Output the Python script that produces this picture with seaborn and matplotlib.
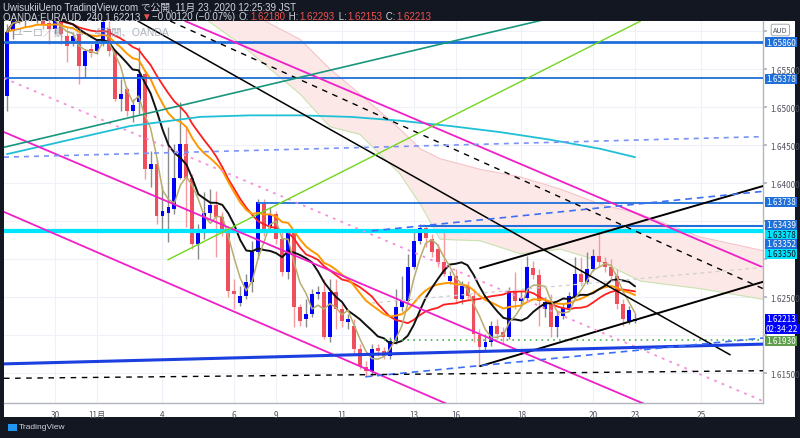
import numpy as np
import pandas as pd
import matplotlib
matplotlib.use("Agg")
import matplotlib.pyplot as plt
import seaborn as sns
from matplotlib.patches import Rectangle

# ===============================
# STYLE
# ===============================
sns.set_theme(style="white")
plt.rcParams["font.family"] = ["Liberation Sans", "Noto Sans CJK JP", "DejaVu Sans"]
NARROW = ["Liberation Sans Narrow", "Noto Sans CJK JP", "DejaVu Sans"]

# ===============================
# DATA  (EURAUD, 4H candles)
# ===============================
opens = [1.6514, 1.6600, 1.6622, 1.6613, 1.6626, 1.6616, 1.6629, 1.6611, 1.6603, 1.6618,
         1.6593, 1.6587, 1.6596, 1.6554, 1.6576, 1.6574, 1.6583, 1.6603, 1.6574, 1.6511,
         1.6524, 1.6495, 1.6507, 1.6543, 1.6418, 1.6425, 1.6357, 1.6361, 1.6366, 1.6407,
         1.6451, 1.6407, 1.6320, 1.6336, 1.6361, 1.6371, 1.6355, 1.6336, 1.6258, 1.6242,
         1.6251, 1.6270, 1.6309, 1.6372, 1.6342, 1.6359, 1.6326, 1.6283, 1.6337, 1.6237,
         1.6221, 1.6228, 1.6254, 1.6257, 1.6197, 1.6257, 1.6234, 1.6217, 1.6212, 1.6182,
         1.6158, 1.6153, 1.6183, 1.6179, 1.6172, 1.6192, 1.6237, 1.6245, 1.6289, 1.6324,
         1.6341, 1.6326, 1.6313, 1.6296, 1.6271, 1.6278, 1.6247, 1.6264, 1.6251, 1.6200,
         1.6184, 1.6191, 1.6212, 1.6204, 1.6197, 1.6258, 1.6245, 1.6249, 1.6288, 1.6279,
         1.6234, 1.6245, 1.6211, 1.6225, 1.6236, 1.6251, 1.6280, 1.6270, 1.6287, 1.6304,
         1.6296, 1.6289, 1.6278, 1.6241, 1.6218, 1.62180]
highs = [1.6609, 1.6632, 1.6636, 1.6636, 1.6636, 1.6632, 1.6636, 1.6626, 1.6626, 1.6626,
         1.6596, 1.6599, 1.6599, 1.6576, 1.6583, 1.6589, 1.6622, 1.6613, 1.6576, 1.6537,
         1.6526, 1.6511, 1.6579, 1.6547, 1.6442, 1.6432, 1.6396, 1.6474, 1.6451, 1.6507,
         1.6475, 1.6412, 1.6346, 1.6388, 1.6392, 1.6389, 1.6362, 1.6342, 1.6274, 1.6264,
         1.6280, 1.6324, 1.6379, 1.6379, 1.6368, 1.6363, 1.6336, 1.6339, 1.6339, 1.6241,
         1.6247, 1.6261, 1.6264, 1.6274, 1.6274, 1.6274, 1.6241, 1.6228, 1.6221, 1.6188,
         1.6166, 1.6188, 1.6188, 1.6184, 1.6197, 1.6261, 1.6278, 1.6307, 1.6336, 1.6346,
         1.6343, 1.6333, 1.6320, 1.6339, 1.6284, 1.6287, 1.6271, 1.6271, 1.6261, 1.6208,
         1.6201, 1.6218, 1.6221, 1.6211, 1.6263, 1.6283, 1.6258, 1.6304, 1.6297, 1.6287,
         1.6250, 1.6254, 1.6232, 1.6241, 1.6257, 1.6303, 1.6303, 1.6309, 1.6313, 1.6336,
         1.6303, 1.6300, 1.6287, 1.6247, 1.6238, 1.62293]
lows = [1.6495, 1.6589, 1.6609, 1.6605, 1.6613, 1.6611, 1.6603, 1.6583, 1.6596, 1.6583,
        1.6559, 1.6580, 1.6530, 1.6539, 1.6566, 1.6570, 1.6580, 1.6567, 1.6508, 1.6495,
        1.6488, 1.6480, 1.6491, 1.6405, 1.6395, 1.6346, 1.6339, 1.6322, 1.6359, 1.6405,
        1.6342, 1.6313, 1.6300, 1.6326, 1.6353, 1.6303, 1.6330, 1.6250, 1.6234, 1.6238,
        1.6247, 1.6257, 1.6300, 1.6330, 1.6337, 1.6320, 1.6278, 1.6274, 1.6211, 1.6212,
        1.6211, 1.6224, 1.6247, 1.6195, 1.6191, 1.6208, 1.6211, 1.6208, 1.6175, 1.6155,
        1.6146, 1.6146, 1.6172, 1.6168, 1.6168, 1.6188, 1.6232, 1.6241, 1.6287, 1.6320,
        1.6316, 1.6303, 1.6289, 1.6278, 1.6267, 1.6243, 1.6241, 1.6247, 1.6191, 1.6159,
        1.6179, 1.6186, 1.6195, 1.6188, 1.6195, 1.6234, 1.6237, 1.6245, 1.6274, 1.6212,
        1.6224, 1.6197, 1.6197, 1.6221, 1.6232, 1.6247, 1.6264, 1.6267, 1.6284, 1.6291,
        1.6283, 1.6274, 1.6234, 1.6212, 1.6214, 1.62153]
closes = [1.6599, 1.6622, 1.6616, 1.6626, 1.6618, 1.6629, 1.6609, 1.6603, 1.6618, 1.6596,
          1.6580, 1.6593, 1.6554, 1.6574, 1.6571, 1.6583, 1.6612, 1.6574, 1.6511, 1.6517,
          1.6495, 1.6503, 1.6543, 1.6418, 1.6425, 1.6357, 1.6363, 1.6368, 1.6407, 1.6451,
          1.6407, 1.6320, 1.6336, 1.6361, 1.6371, 1.6355, 1.6336, 1.6258, 1.6254, 1.6251,
          1.6270, 1.6309, 1.6375, 1.6339, 1.6359, 1.6326, 1.6283, 1.6336, 1.6237, 1.6218,
          1.6228, 1.6254, 1.6257, 1.6197, 1.6257, 1.6234, 1.6218, 1.6221, 1.6182, 1.6159,
          1.6153, 1.6182, 1.6179, 1.6172, 1.6192, 1.6237, 1.6245, 1.6289, 1.6324, 1.6341,
          1.6328, 1.6309, 1.6296, 1.6280, 1.6278, 1.6247, 1.6264, 1.6251, 1.6201, 1.6184,
          1.6191, 1.6212, 1.6201, 1.6197, 1.6258, 1.6245, 1.6249, 1.6289, 1.6279, 1.6245,
          1.6243, 1.6211, 1.6225, 1.6236, 1.6251, 1.6280, 1.6270, 1.6287, 1.6304, 1.6296,
          1.6289, 1.6278, 1.6241, 1.6221, 1.6233, 1.62213]

# long moving average (cyan), read at a few bars
long_ma_bars = [0, 8.9, 20.6, 32.3, 40.6, 49, 57.4, 65.7, 74.1, 82.4, 90.8, 99.2, 105]
long_ma_vals = [1.6438, 1.6454, 1.6475, 1.6487, 1.6489, 1.6489, 1.6487, 1.6482, 1.6475,
                1.6467, 1.6457, 1.6445, 1.6434]

# ichimoku cloud edges
cloud_bars = [28.9, 39.0, 49.0, 54.0, 59.0, 65.7, 69.1, 72.4, 79.1, 85.8, 92.5, 99.2,
              105.9, 115.9, 126.4]
cloud_top = [1.6650, 1.6630, 1.6589, 1.6550, 1.6517, 1.6471, 1.6445, 1.6432, 1.6418,
             1.6408, 1.6392, 1.6372, 1.6359, 1.6329, 1.6311]
cloud_bot = [1.6640, 1.6583, 1.6517, 1.6474, 1.6464, 1.6412, 1.6372, 1.6326, 1.6324,
             1.6307, 1.6313, 1.6297, 1.6271, 1.6261, 1.6247]

# date ticks
tick_bars = [8, 15, 26, 38, 45, 56, 68, 75, 86, 98, 105, 116]
tick_labels = ["30", "11月", "4", "6", "9", "11", "13", "16", "18", "20", "23", "25"]

# price scale ticks (the ones hidden behind price labels are left blank)
price_ticks = [1.615, 1.620, 1.625, 1.630, 1.635, 1.640, 1.645, 1.650, 1.655, 1.660]
price_tick_labels = ["1.61500", "", "1.62500", "", "", "1.64000", "1.64500", "1.65000",
                     "1.65500", ""]

# horizontal drawings
hline_prices = [1.65860, 1.65378, 1.63738, 1.63439, 1.63378, 1.63352, 1.63350, 1.61930]
hline_from = [-0.5, -0.5, 42, 69, -0.5, 69, -0.5, 63]

# sloped drawings: bar0, price0, bar1, price1
seg_bar0 = [21.9, 27.3, 79.1, 79.1, 29.8, -0.5, -0.5, -0.5, 26.9, -0.5, -0.5, -0.5, 59.9, -0.5, 61.0, 61.0]
seg_p0 = [1.6613, 1.6613, 1.6288, 1.6159, 1.6613, 1.6467, 1.6362, 1.6538, 1.6299, 1.6447,
          1.6434, 1.6162, 1.6145, 1.6143, 1.6337, 1.6242]
seg_bar1 = [120.9, 126.4, 126.4, 126.4, 126.4, 126.4, 126.4, 126.4, 105.9, 126.4, 126.4,
            126.4, 126.4, 126.4, 126.4, 126.4]
seg_p1 = [1.6174, 1.6261, 1.6396, 1.6270, 1.6289, 1.6043, 1.5929, 1.6113, 1.6613, 1.6683,
          1.6461, 1.6188, 1.6196, 1.6153, 1.6389, 1.6289]

# right-axis price labels
label_texts = ["1.65860", "1.65378", "1.63738", "1.63439", "1.63378", "1.63352",
               "1.63350", "1.62213", "02:34:22", "1.61930"]

# ===============================
# STYLES / LAYOUT
# ===============================
BLUE_UP = "#0000ff"
RED_DN = "#ef4f5c"
hline_colors = ["#1e6fd9", "#1e6fd9", "#1e6fd9", "#1e6fd9", "#00e5ff", "#1e6fd9", "#00e5ff", "#4caf50"]
hline_lw = [2.0, 1.3, 1.3, 1.5, 1.6, 1.3, 1.6, 1.2]
hline_ls = ["-", "-", "-", "-", "-", "-", "-", (0, (1, 2.5))]
seg_colors = ["black", "black", "black", "black", "#f01fc8", "#f01fc8", "#f01fc8", "#f48fd8",
              "#72d61e", "#17977e", "#7b93f5", "#1c3fe0", "#3b6ff5", "black", "#3b6ff5", "#cfcfcf"]
seg_ls = ["-", (0, (4, 4)), "-", "-", "-", "-", "-", (0, (1.5, 3)), "-", "-", (0, (3, 3)),
          "-", (0, (4, 3)), (0, (4, 4)), (0, (4, 3)), (0, (3, 3))]
seg_lw = [1.1, 1.0, 1.4, 1.4, 1.3, 1.3, 1.3, 1.3, 1.0, 1.2, 1.2, 2.2, 1.2, 1.0, 1.2, 0.9]
label_rows = [43, 80, 203, 226, 236, 245, 255, 320, 330, 342]
label_bg = ["#1e6fd9", "#1e6fd9", "#1e6fd9", "#1e6fd9", "#00e5ff", "#1e6fd9", "#00e5ff",
            "#0000ff", "#0000ff", "#5f9e4d"]
label_fg = ["white", "white", "white", "white", "#131722", "white", "#131722", "white",
            "white", "white"]

W, H = 800, 439
BG = "#131722"

df = pd.DataFrame({"open": opens, "high": highs, "low": lows, "close": closes})
df["bar"] = np.arange(len(df))
df["sma4"] = df["close"].rolling(4, min_periods=1).mean()
df["sma10"] = df["close"].rolling(10, min_periods=1).mean()
df["ema20"] = df["close"].ewm(span=20, adjust=False).mean()
df["sma20"] = df["close"].rolling(20, min_periods=1).mean()
up = df["close"] >= df["open"]

fig = plt.figure(figsize=(W / 100, H / 100), dpi=100, facecolor=BG)

# white panel behind the chart and its two scales
back = fig.add_axes([4 / W, (H - 418) / H, 791 / W, 396 / H], zorder=0)
back.set_facecolor("white")
back.set_xticks([])
back.set_yticks([])
for s in back.spines.values():
    s.set_visible(False)

ax = fig.add_axes([4 / W, (H - 404) / H, 759 / W, 382 / H], zorder=1)
ax.set_facecolor("white")
ax.set_xlim(-0.5, 126.4)
ax.set_ylim(1.611053, 1.661316)

# grid / scales
ax.set_xticks(tick_bars)
ax.set_xticklabels(tick_labels)
ax.yaxis.tick_right()
ax.set_yticks(price_ticks)
ax.set_yticklabels(price_tick_labels)
ax.grid(True, color="#eef1f7", linewidth=0.8, zorder=0)
ax.tick_params(axis="both", labelsize=5.9, colors="#50535e", length=3, pad=2,
               color="#b2b5be")
for lab in ax.get_xticklabels() + ax.get_yticklabels():
    lab.set_family(NARROW)
for side in ["top", "left"]:
    ax.spines[side].set_visible(False)
for side in ["right", "bottom"]:
    ax.spines[side].set_color("#b2b5be")
    ax.spines[side].set_linewidth(1.0)

# ichimoku cloud
ax.fill_between(cloud_bars, cloud_bot, cloud_top, color="#fde6e6", alpha=0.9, zorder=1, linewidth=0)
ax.plot(cloud_bars, cloud_top, color="#f6c2c8", lw=0.8, zorder=1)
ax.plot(cloud_bars, cloud_bot, color="#c9e3b0", lw=0.8, zorder=1)

# horizontal drawings
for p, x0, c, lw, ls in zip(hline_prices, hline_from, hline_colors, hline_lw, hline_ls):
    ax.plot([x0, 126.4], [p, p], color=c, lw=lw, ls=ls, zorder=6)

# candles
wick_col = np.where(up, "#8a8a8a", "#f59a9f")
ax.vlines(df["bar"], df["low"], df["high"], colors=wick_col, lw=1.0, zorder=3)
body_low = np.minimum(df["open"], df["close"])
body_h = np.maximum(np.abs(df["close"] - df["open"]), 0.00004)
ax.bar(df["bar"], body_h, bottom=body_low, width=0.66,
       color=np.where(up, BLUE_UP, RED_DN), linewidth=0, zorder=4)

# moving averages
sns.lineplot(data=df, x="bar", y="sma20", ax=ax, color="#ff1f1f", linewidth=1.3, zorder=5)
sns.lineplot(data=df, x="bar", y="ema20", ax=ax, color="#ff9800", linewidth=1.4, zorder=5)
sns.lineplot(data=df, x="bar", y="sma10", ax=ax, color="#111111", linewidth=1.4, zorder=5)
sns.lineplot(data=df, x="bar", y="sma4", ax=ax, color="#b8ad6e", linewidth=1.1, zorder=5)
sns.lineplot(x=long_ma_bars, y=long_ma_vals, ax=ax, color="#1fc0d6", linewidth=1.3, zorder=5)

# sloped drawings
for b0, p0, b1, p1, c, ls, lw in zip(seg_bar0, seg_p0, seg_bar1, seg_p1, seg_colors, seg_ls, seg_lw):
    ax.plot([b0, b1], [p0, p1], color=c, ls=ls, lw=lw, zorder=6)

ax.set_xlabel("")
ax.set_ylabel("")

# right-axis price labels
for txt, row, bg, fg in zip(label_texts, label_rows, label_bg, label_fg):
    fig.text(766 / W, 1 - row / H, txt, fontsize=5.9, color=fg, va="center", ha="left",
             family=NARROW, zorder=10,
             bbox=dict(boxstyle="square,pad=0.1", fc=bg, ec="none"))
fig.text(773 / W, 1 - 31 / H, "AUD", fontsize=5.2, color="#50535e", va="center", ha="left",
         family=NARROW, zorder=10,
         bbox=dict(boxstyle="round,pad=0.25", fc="white", ec="#9598a1", lw=0.6))

# watermark
fig.text(12 / W, 1 - 33 / H, "ユーロ／豪ドル、4時間、OANDA", fontsize=7.5, color="#9aa0ad",
         alpha=0.8, va="center", ha="left", zorder=2)

# header
fig.text(3 / W, 1 - 8 / H, "UwisukiiUeno TradingView.com で公開, 11月 23, 2020 12:25:39 JST",
         fontsize=7, color="#d1d4dc", va="center", ha="left")

renderer = fig.canvas.get_renderer()
x = 3 / W
pieces = [("OANDA:EURAUD, 240 1.62213", "#d1d4dc"), ("▼", "#ef5350"),
          ("−0.00120 (−0.07%) ", "#d1d4dc"), ("O:", "#d1d4dc"), ("1.62180", "#ef5350"),
          (" H:", "#d1d4dc"), ("1.62293", "#ef5350"), (" L:", "#d1d4dc"),
          ("1.62153", "#ef5350"), (" C:", "#d1d4dc"), ("1.62213", "#ef5350")]
for s, c in pieces:
    t = fig.text(x, 1 - 17 / H, s, fontsize=7, color=c, va="center", ha="left",
                 family=["Liberation Sans", "DejaVu Sans"])
    bb = t.get_window_extent(renderer=renderer)
    x = bb.x1 / fig.bbox.width + 1 / W

# TradingView logo
fig.patches.append(Rectangle((8 / W, 1 - 432 / H), 9 / W, 7 / H, transform=fig.transFigure,
                             facecolor="#2196f3", edgecolor="none"))
fig.text(19 / W, 1 - 428 / H, "TradingView", fontsize=6, color="#d1d4dc", va="center", ha="left")

fig.savefig("out.png", dpi=100, facecolor=BG)
